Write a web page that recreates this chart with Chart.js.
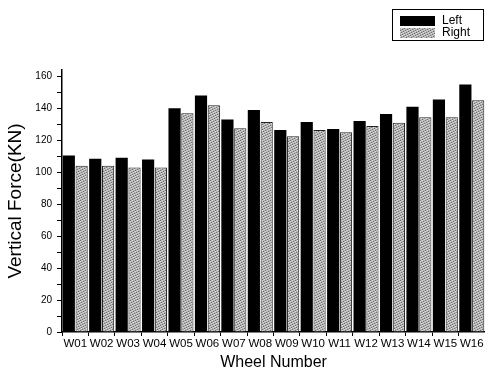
<!DOCTYPE html>
<html>
<head>
<meta charset="utf-8">
<script src="https://cdn.jsdelivr.net/npm/chart.js@4"></script>
<style>
html, body { margin: 0; padding: 0; background: #fff; }
#wrap { width: 485px; height: 380px; }
</style>
</head>
<body>
<div id="wrap"><canvas id="forceChart" width="485" height="380"></canvas></div>
<script>
// ============================
// DATA
// ============================
const wheels = ['W01','W02','W03','W04','W05','W06','W07','W08',
                'W09','W10','W11','W12','W13','W14','W15','W16'];
const leftForce  = [110.5,108.5,109,108,140,148,133,139,126.5,131.5,127,132,136.5,141,145.5,155];
const rightForce = [104,104,103,103,137,142,127.5,131.5,122.5,126.5,125,129,131,134.5,134.5,145];
// major ticks every 20, minor every 10
const yTicks = [0,10,20,30,40,50,60,70,80,90,100,110,120,130,140,150,160];

const FONT = "'Liberation Sans', Arial, sans-serif";

// stippled grey fill for the "Right" bars
function makeStipple() {
    const c = document.createElement('canvas');
    c.width = 5; c.height = 5;
    const g = c.getContext('2d');
    g.fillStyle = '#b4b4b4';
    g.fillRect(0, 0, 5, 5);
    g.fillStyle = '#6e6e6e';
    [[0,0],[3,1],[1,2],[4,3],[2,4]].forEach(p => g.fillRect(p[0], p[1], 1, 1));
    g.fillStyle = '#dcdcdc';
    [[2,0],[0,1],[3,2],[1,3],[4,4]].forEach(p => g.fillRect(p[0], p[1], 1, 1));
    return g.createPattern(c, 'repeat');
}
const stipple = makeStipple();

// ============================
// LEGEND (boxed, top right)
// ============================
const boxLegend = {
    id: 'boxLegend',
    afterDraw(chart) {
        const ctx = chart.ctx;
        ctx.save();
        ctx.strokeStyle = '#000';
        ctx.lineWidth = 1;
        ctx.strokeRect(392.5, 9.5, 91, 31);
        chart.data.datasets.forEach((ds, i) => {
            const y = 16 + i * 12;
            ctx.fillStyle = ds.backgroundColor;
            ctx.fillRect(400, y, 35, 10);
            ctx.fillStyle = '#000';
            ctx.font = '12px ' + FONT;
            ctx.textBaseline = 'middle';
            ctx.fillText(ds.label, 442, y + 5);
        });
        ctx.restore();
    }
};

// ============================
// CHART
// ============================
new Chart(document.getElementById('forceChart'), {
    type: 'bar',
    data: {
        labels: wheels,
        datasets: [{
            label: 'Left',
            data: leftForce,
            backgroundColor: '#000',
            borderColor: '#000',
            borderWidth: 0
        }, {
            label: 'Right',
            data: rightForce,
            backgroundColor: stipple,
            borderColor: '#222',
            borderWidth: 1
        }]
    },
    options: {
        responsive: false,
        animation: false,
        layout: { padding: { top: 70, right: 0, left: 0, bottom: 4 } },
        plugins: {
            legend: { display: false },
            tooltip: { enabled: false }
        },
        datasets: {
            bar: { categoryPercentage: 0.97, barPercentage: 0.95 }
        },
        scales: {
            x: {
                grid: {
                    display: true,
                    drawOnChartArea: false,
                    offset: true,
                    tickLength: 4,
                    color: '#000'
                },
                border: { color: '#000', width: 1.5 },
                ticks: {
                    color: '#000',
                    font: { family: FONT, size: 11.5 },
                    padding: 1,
                    maxRotation: 0,
                    autoSkip: false
                },
                title: {
                    display: true,
                    text: 'Wheel Number',
                    color: '#000',
                    font: { family: FONT, size: 16 },
                    padding: { top: 4 }
                },
                afterFit(scale) { scale.height = 44; }
            },
            y: {
                min: 0,
                max: 164,
                afterBuildTicks(scale) {
                    scale.ticks = yTicks.map(v => ({ value: v }));
                },
                grid: {
                    display: true,
                    drawOnChartArea: false,
                    tickLength: 5,
                    color: '#000'
                },
                border: { color: '#000', width: 1.5 },
                ticks: {
                    color: '#000',
                    font: { family: FONT, size: 10 },
                    padding: 5,
                    callback: v => (v % 20 === 0 ? v : '')
                },
                title: {
                    display: true,
                    text: 'Vertical Force(KN)',
                    color: '#000',
                    font: { family: FONT, size: 19 },
                    padding: { bottom: 2 }
                },
                afterFit(scale) { scale.width = 62; }
            }
        }
    },
    plugins: [boxLegend]
});
</script>
</body>
</html>
